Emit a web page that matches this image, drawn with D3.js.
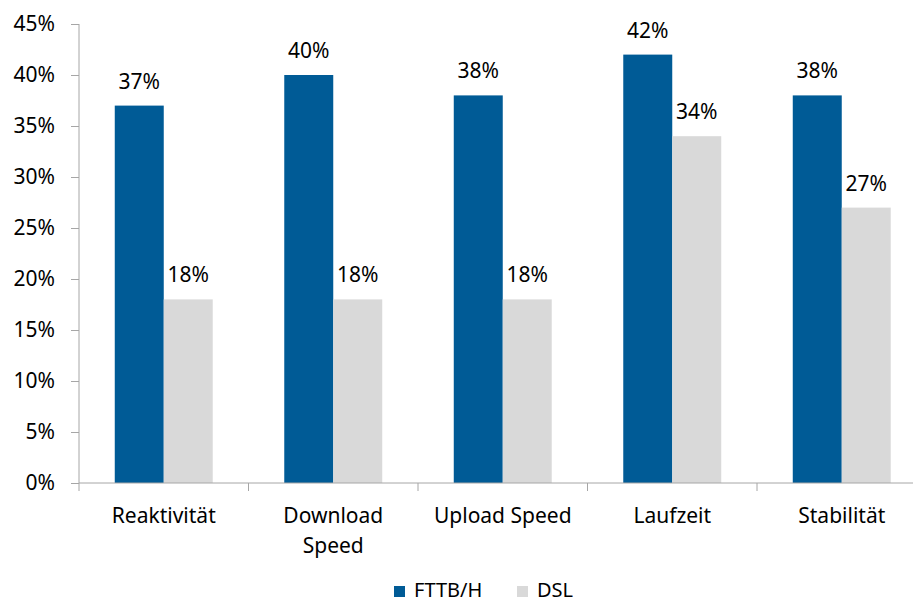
<!DOCTYPE html>
<html>
<head>
<meta charset="utf-8">
<script src="https://cdn.jsdelivr.net/npm/d3@7"></script>
<style>
  body { margin: 0; background: #fff; }
  svg { display: block; font-family: "Noto Sans", sans-serif; }
</style>
</head>
<body>
<svg width="913" height="605"></svg>
<script>
// data
var categories = [["Reaktivität"], ["Download", "Speed"], ["Upload Speed"], ["Laufzeit"], ["Stabilität"]];
var series = ["FTTB/H", "DSL"];
var fttbValues = [0.37, 0.40, 0.38, 0.42, 0.38];
var dslValues = [0.18, 0.18, 0.18, 0.34, 0.27];
var yTicks = [0, 0.05, 0.10, 0.15, 0.20, 0.25, 0.30, 0.35, 0.40, 0.45];
var colors = ["#005b96", "#d9d9d9"];

var svg = d3.select("svg");

var catKeys = categories.map(function (c) { return c.join(" "); });

// plot area runs a bit past the right edge, like the original
var x = d3.scaleBand().domain(catKeys).range([79, 926.5]).paddingInner(0).paddingOuter(0);
var x1 = d3.scaleBand().domain(series).range([0, x.bandwidth()]).paddingInner(0).paddingOuter(0.73);
var y = d3.scaleLinear().domain([0, 0.45]).range([483, 24]);
var color = d3.scaleOrdinal().domain(series).range(colors);

var rows = catKeys.map(function (k, i) {
  return { key: k, lines: categories[i], values: [fttbValues[i], dslValues[i]] };
});

// y axis
var yAxis = d3.axisLeft(y).tickValues(yTicks).tickFormat(d3.format(".0%")).tickSize(8).tickPadding(16);
var gy = svg.append("g").attr("transform", "translate(79,0)").call(yAxis);
gy.select(".domain").attr("stroke", "#a6a6a6").attr("d", "M0,24V483");
gy.selectAll(".tick line").attr("stroke", "#a6a6a6");
gy.selectAll(".tick text").attr("font-size", 21).attr("fill", "#000").attr("font-family", "Noto Sans");

// bars
var groups = svg.append("g").selectAll("g")
  .data(rows)
  .enter()
  .append("g")
  .attr("transform", function (d) { return "translate(" + x(d.key) + ",0)"; });

groups.selectAll("rect")
  .data(function (d) { return d.values.map(function (v, j) { return { s: series[j], v: v }; }); })
  .enter()
  .append("rect")
  .attr("x", function (d) { return x1(d.s); })
  .attr("y", function (d) { return y(d.v); })
  .attr("width", x1.bandwidth())
  .attr("height", function (d) { return y(0) - y(d.v); })
  .attr("fill", function (d) { return color(d.s); });

groups.selectAll("text.val")
  .data(function (d) { return d.values.map(function (v, j) { return { s: series[j], v: v }; }); })
  .enter()
  .append("text")
  .attr("class", "val")
  .attr("x", function (d) { return x1(d.s) + x1.bandwidth() / 2; })
  .attr("y", function (d) { return y(d.v) - 17; })
  .attr("text-anchor", "middle")
  .attr("font-size", 21)
  .text(function (d) { return d3.format(".0%")(d.v); });

// x axis
var xAxis = d3.axisBottom(x).tickSize(0).tickFormat("");
var gx = svg.append("g").attr("transform", "translate(0,483)").call(xAxis);
gx.select(".domain").attr("stroke", "#a6a6a6").attr("d", "M79,0H926.5");
gx.selectAll(".tick").remove();
svg.append("g").selectAll("line")
  .data(catKeys.concat(["end"]))
  .enter()
  .append("line")
  .attr("x1", function (d, i) { return 79 + i * x.step(); })
  .attr("x2", function (d, i) { return 79 + i * x.step(); })
  .attr("y1", 483)
  .attr("y2", 491)
  .attr("stroke", "#a6a6a6");

// category labels
var labels = svg.append("g").selectAll("text")
  .data(rows)
  .enter()
  .append("text")
  .attr("text-anchor", "middle")
  .attr("font-size", 21)
  .attr("transform", function (d) { return "translate(" + (x(d.key) + x.bandwidth() / 2) + ",523)"; });
labels.selectAll("tspan")
  .data(function (d) { return d.lines; })
  .enter()
  .append("tspan")
  .attr("x", 0)
  .attr("y", function (d, i) { return i * 30; })
  .text(function (d) { return d; });

// legend, kept just inside the bottom edge
var legendX = [394, 517];
var legend = svg.append("g").selectAll("g")
  .data(series)
  .enter()
  .append("g")
  .attr("transform", function (d, i) { return "translate(" + legendX[i] + ",586)"; });
legend.append("rect").attr("width", 11).attr("height", 11).attr("fill", function (d) { return color(d); });
legend.append("text").attr("x", 20).attr("y", 11).attr("font-size", 20).text(function (d) { return d; });
</script>
</body>
</html>
